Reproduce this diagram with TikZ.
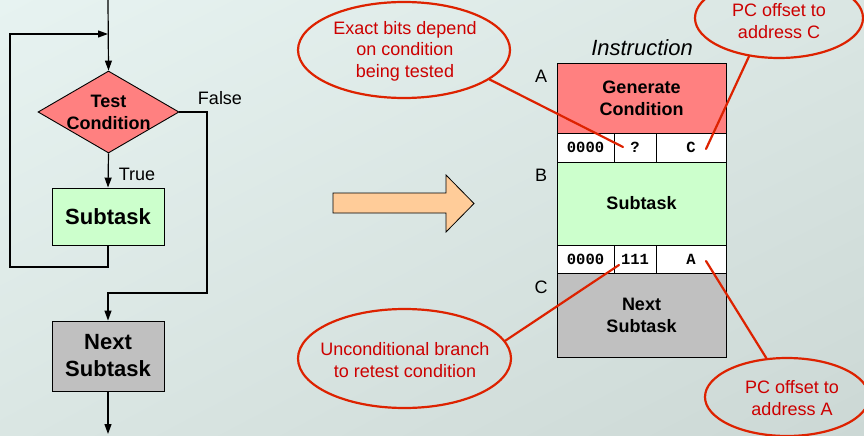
\documentclass[tikz,border=0pt]{standalone}
\usepackage{fontspec}
\setmainfont{Liberation Sans}
\setmonofont{Liberation Mono}
\usetikzlibrary{shapes.geometric,arrows.meta,shadings}

\definecolor{condred}{HTML}{FF8080}
\definecolor{taskgreen}{HTML}{CCFFCC}
\definecolor{taskgray}{HTML}{C0C0C0}
\definecolor{arrowpeach}{HTML}{FFCC99}
\definecolor{calloutline}{HTML}{DD2200}
\definecolor{callouttext}{HTML}{CC0000}
\definecolor{bgA}{HTML}{E7F3F1}
\definecolor{bgB}{HTML}{DAE6E3}
\definecolor{bgC}{HTML}{CCD8D5}

\begin{document}
\begin{tikzpicture}[x=1pt,y=-1pt,
  flow/.style={line width=1.2pt, draw=black},
  tip/.style={-{Triangle[length=10pt,width=7pt]}},
  lbox/.style={draw=black, line width=0.9pt, inner sep=0pt, align=center,
    minimum width=112pt, font=\bfseries\fontsize{22}{27}\selectfont},
  rbox/.style={draw=black, line width=0.9pt, inner sep=0pt, align=center,
    minimum width=169pt, font=\bfseries\fontsize{18}{22}\selectfont},
  cell/.style={draw=black, line width=0.9pt, fill=white, inner sep=0pt,
    font=\ttfamily\bfseries\fontsize{15.5}{18}\selectfont},
  lbl/.style={inner sep=0pt, font=\fontsize{18}{22}\selectfont},
  callout/.style={ellipse, draw=calloutline, line width=2.2pt, inner sep=0pt},
  callouttxt/.style={inner sep=0pt, align=center, text=callouttext,
    font=\fontsize{18}{21.5}\selectfont},
  pointer/.style={draw=calloutline, line width=2.2pt, line cap=round}
]
% background
\shade[upper left=bgA, upper right=bgB, lower left=bgB, lower right=bgC]
  (0,0) rectangle (864,436);
\useasboundingbox (0,0) rectangle (864,436);

% ---------------- flowchart ----------------
\node[diamond, draw=black, line width=0.9pt, fill=condred, inner sep=0pt,
  minimum width=141pt, minimum height=82pt] (test) at (108.5,112) {};
\node[inner sep=0pt, align=center, font=\bfseries\fontsize{18}{22}\selectfont]
  (testtxt) at (test) {Test\\Condition};
\node[lbox, fill=taskgreen, minimum height=57pt] (sub) at (108,216.5) {Subtask};
\node[lbox, fill=taskgray, minimum height=70pt] (next) at (108,356) {Next\\Subtask};

\node[lbl] (falselbl) at (220,98) {False};
\node[lbl] (truelbl) at (137,174) {True};

\coordinate (entry) at (108,0);
\coordinate (exit) at (108,434);
\coordinate (loopA) at (108,267);
\coordinate (loopB) at (10,267);
\coordinate (loopC) at (10,34);
\coordinate (loopD) at (108,34);
\coordinate (fA) at (207,112);
\coordinate (fB) at (207,293);
\coordinate (fC) at (108,293);

\draw[flow,tip] (entry) -- (test.north);
\draw[flow,tip] (test.south) -- (sub.north);
\draw[flow,tip] (sub.south) -- (loopA) -- (loopB) -- (loopC) -- (loopD);
\draw[flow,tip] (test.east) -- (fA) -- (fB) -- (fC) -- (next.north);
\draw[flow,tip] (next.south) -- (exit);

% ---------------- block arrow ----------------
\draw[fill=arrowpeach, draw=black, line width=0.8pt]
  (333,193) -- (446,193) -- (446,175) -- (474,203.5) -- (446,232)
  -- (446,213) -- (333,213) -- cycle;

% ---------------- instruction layout ----------------
\node[inner sep=0pt, font=\itshape\fontsize{22}{26}\selectfont] (instr) at (642,48) {Instruction};
\node[rbox, fill=condred, minimum height=70pt] (gen) at (641.5,98) {Generate\\Condition};
\node[cell, minimum width=57pt, minimum height=29pt] (opA) at (585.5,147.5) {0000};
\node[cell, minimum width=42pt, minimum height=29pt] (ccA) at (635,147.5) {?};
\node[cell, minimum width=70pt, minimum height=29pt] (offA) at (691,147.5) {C};
\node[rbox, fill=taskgreen, minimum height=83pt] (subR) at (641.5,203.5) {Subtask};
\node[cell, minimum width=57pt, minimum height=28pt] (opB) at (585.5,259) {0000};
\node[cell, minimum width=42pt, minimum height=28pt] (ccB) at (635,259) {111};
\node[cell, minimum width=70pt, minimum height=28pt] (offB) at (691,259) {A};
\node[rbox, fill=taskgray, minimum height=84pt] (nextR) at (641.5,315) {Next\\Subtask};

\node[lbl] (addrA) at (541,76) {A};
\node[lbl] (addrB) at (541,175) {B};
\node[lbl] (addrC) at (541,287) {C};

% ---------------- callouts ----------------
\node[callout, minimum width=212pt, minimum height=96pt] (noteBits) at (404,50) {};
\node[callouttxt] (noteBitsTxt) at (405,51) {Exact bits depend\\on condition\\being tested};
\node[callout, minimum width=168pt, minimum height=80pt] (noteC) at (779,18) {};
\node[callouttxt] (noteCTxt) at (779,21) {PC offset to\\address C};
\node[callout, minimum width=213pt, minimum height=99pt] (noteBr) at (404.5,358.5) {};
\node[callouttxt] (noteBrTxt) at (405,360) {Unconditional branch\\to retest condition};
\node[callout, minimum width=164pt, minimum height=78pt] (noteA) at (787,397) {};
\node[callouttxt] (noteATxt) at (792,398) {PC offset to\\address A};

\coordinate (ptQ) at (623,147);
\coordinate (ptC) at (706,149);
\coordinate (pt111) at (619,265);
\coordinate (ptA) at (706,261);

\draw[pointer] (ptQ) -- (noteBits.-19);
\draw[pointer] (ptC) -- (noteC.-128);
\draw[pointer] (pt111) -- (noteBr.10);
\draw[pointer] (ptA) -- (noteA.118);
\end{tikzpicture}
\end{document}
